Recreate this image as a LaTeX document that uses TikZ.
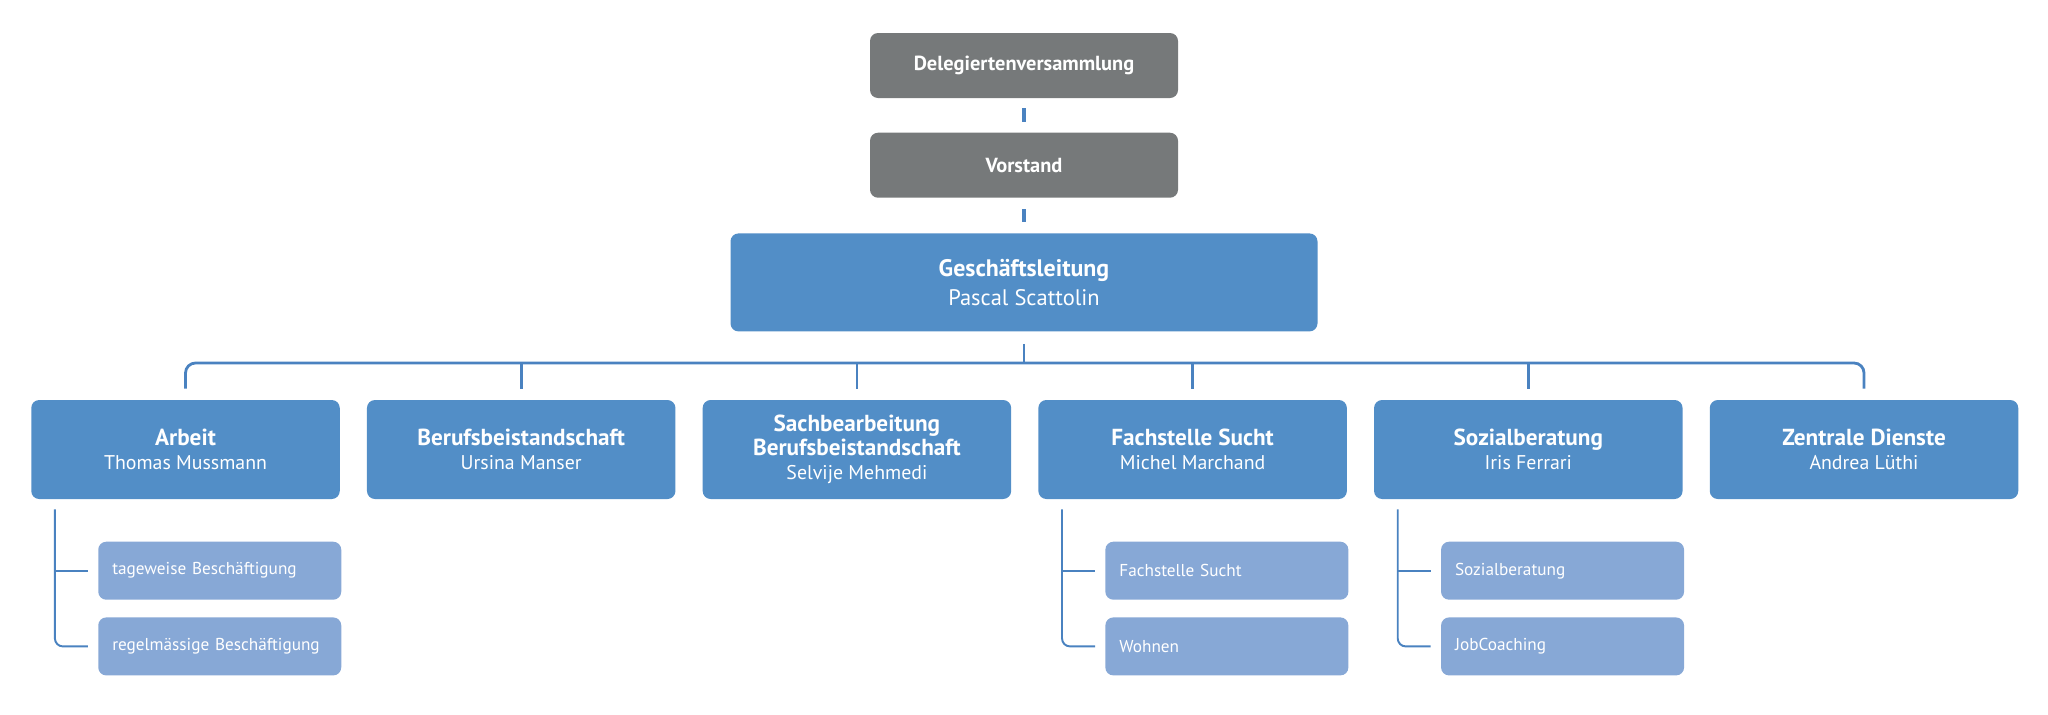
\documentclass[tikz,border=0pt]{standalone}
\usepackage{fontspec}
\setmainfont{PT Sans}
\usetikzlibrary{positioning}
\definecolor{boardgray}{RGB}{118,121,122}
\definecolor{deptblue}{RGB}{82,142,199}
\definecolor{unitblue}{RGB}{135,168,214}
\definecolor{lineblue}{RGB}{74,130,192}
\newcommand{\orgtitle}[1]{{\bfseries\fontsize{13.2}{13.7}\selectfont #1}}
\tikzset{
        board/.style={fill=boardgray, text=white, rounded corners=1.6mm, minimum width=6.16cm, minimum height=1.3cm, font=\bfseries\fontsize{11.6}{13}\selectfont},
        lead/.style={fill=deptblue, text=white, rounded corners=1.6mm, minimum width=11.74cm, minimum height=1.96cm, align=center, font=\fontsize{12.8}{16.4}\selectfont},
        dept/.style={fill=deptblue, text=white, rounded corners=1.6mm, minimum width=6.17cm, minimum height=1.98cm, align=center, font=\fontsize{11.3}{13.7}\selectfont},
        unit/.style={fill=unitblue, text=white, rounded corners=1.6mm, minimum height=1.16cm, text width=4.3cm, inner xsep=0.28cm, align=left, font=\fontsize{9.8}{11}\selectfont},
        conn/.style={draw=lineblue, line width=2pt},
        bus/.style={draw=lineblue, line width=1.6pt, rounded corners=2mm},
        branch/.style={draw=lineblue, line width=1.1pt, rounded corners=1.6mm}
          }

\begin{document}
\begin{tikzpicture}
            \useasboundingbox (0,0) rectangle (40.96,-14.28);
            % top of the chart
            \node[board] (dv) at (20.48,-1.31) {Delegiertenversammlung};
            \node[board, below=0.68cm of dv] (vs) {Vorstand};
            \node[lead, below=0.7cm of vs] (gl) {{\bfseries\fontsize{13.6}{16.4}\selectfont Geschäftsleitung}\\Pascal Scattolin};
            % departments
            \node[dept] (arbeit) at (3.71,-8.99) {\orgtitle{Arbeit}\\Thomas Mussmann};
            \node[dept, right=0.53cm of arbeit] (beistand) {\orgtitle{Berufsbeistandschaft}\\Ursina Manser};
            \node[dept, right=0.53cm of beistand] (sachbe) {\orgtitle{Sachbearbeitung}\\\orgtitle{Berufsbeistandschaft}\\Selvije Mehmedi};
            \node[dept, right=0.53cm of sachbe] (sucht) {\orgtitle{Fachstelle Sucht}\\Michel Marchand};
            \node[dept, right=0.53cm of sucht] (sozial) {\orgtitle{Sozialberatung}\\Iris Ferrari};
            \node[dept, right=0.53cm of sozial] (dienste) {\orgtitle{Zentrale Dienste}\\Andrea Lüthi};
            % units
            \node[unit, anchor=north west] (arbeit1) at ([xshift=1.34cm, yshift=-0.84cm]arbeit.south west) {tageweise Beschäftigung};
            \node[unit, below=0.34cm of arbeit1] (arbeit2) {regelmässige Beschäftigung};
            \node[unit, anchor=north west] (sucht1) at ([xshift=1.34cm, yshift=-0.84cm]sucht.south west) {Fachstelle Sucht};
            \node[unit, below=0.34cm of sucht1] (sucht2) {Wohnen};
            \node[unit, anchor=north west] (sozial1) at ([xshift=1.34cm, yshift=-0.84cm]sozial.south west) {Sozialberatung};
            \node[unit, below=0.34cm of sozial1] (sozial2) {JobCoaching};
            % connectors
            \coordinate (bus) at (20.48,-7.26);
            \draw[conn] ([yshift=-2mm]dv.south) -- ([yshift=2mm]vs.north);
            \draw[conn] ([yshift=-2.2mm]vs.south) -- ([yshift=2.2mm]gl.north);
            \draw[bus] ([yshift=-2.4mm]gl.south) -- (bus);
            \draw[bus] ([yshift=2.2mm]arbeit.north) |- (bus) -| ([yshift=2.2mm]dienste.north);
            \foreach \d in {beistand, sachbe, sucht, sozial}
              \draw[bus] (\d.north |- bus) -- ([yshift=2.2mm]\d.north);
            \foreach \d in {arbeit, sucht, sozial} {
              \draw[branch] ([xshift=4.8mm, yshift=-2mm]\d.south west) |- ([xshift=-2mm]\d2.west);
              \draw[branch] ([xshift=4.8mm]\d.south west |- \d1.west) -- ([xshift=-2mm]\d1.west);
            }
          \end{tikzpicture}
\end{document}
